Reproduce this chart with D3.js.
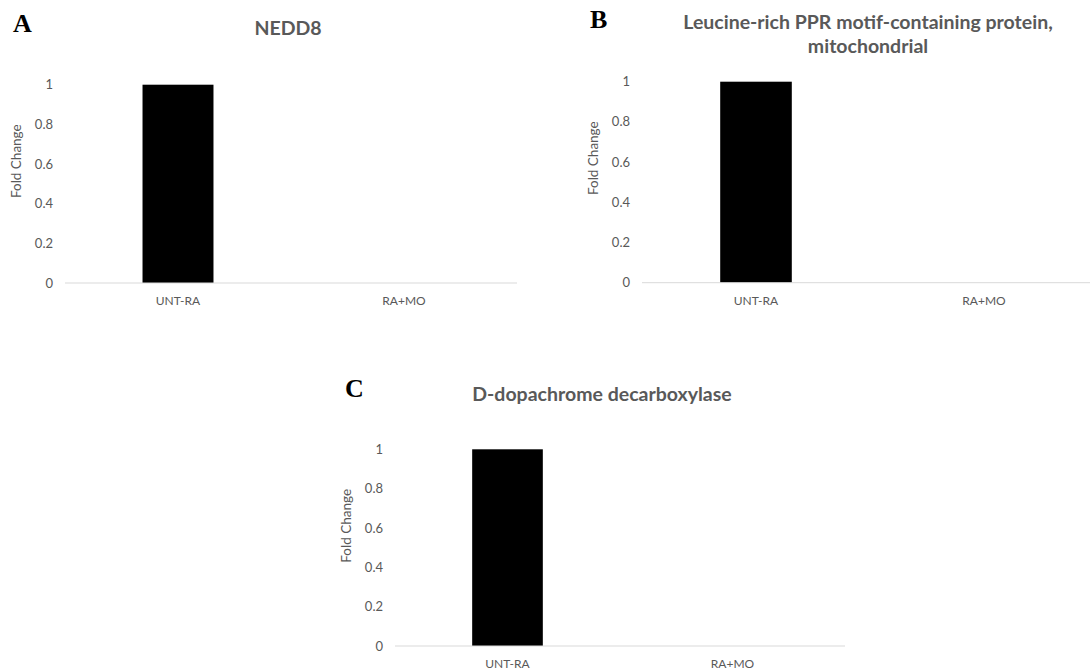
<!DOCTYPE html>
<html>
<head>
<meta charset="utf-8">
<script src="https://cdn.jsdelivr.net/npm/d3@7"></script>
<style>
  body { margin: 0; background: #fff; }
  svg { display: block; }
  .tick-label, .cat-label, .axis-title { font-family: Lato, sans-serif; fill: #595959; }
  .title { font-family: Lato, sans-serif; font-weight: bold; fill: #595959; font-size: 19.5px; }
  .panel-letter { font-family: "Liberation Serif", "Times New Roman", serif; font-weight: bold; font-size: 26px; fill: #000; }
</style>
</head>
<body>
<svg width="1090" height="672"></svg>
<script>
// data
const categories = ['UNT-RA', 'RA+MO'];
const nedd8Values = [1, 0];
const lrpprcValues = [1, 0];
const ddtValues = [1, 0];
const yTicks = [0, 0.2, 0.4, 0.6, 0.8, 1];

const svg = d3.select('svg');

// one panel per protein
const panels = [
  { letter: 'A', title: ['NEDD8'], values: nedd8Values,
    x0: 65, x1: 517, yTop: 84.7, yBot: 283, titleX: 288, titleY: 35, letterX: 13, letterY: 32 },
  { letter: 'B', title: ['Leucine-rich PPR motif-containing protein,', 'mitochondrial'], values: lrpprcValues,
    x0: 642, x1: 1098, yTop: 81.7, yBot: 282.7, titleX: 868, titleY: 28.5, letterX: 590, letterY: 28 },
  { letter: 'C', title: ['D-dopachrome decarboxylase'], values: ddtValues,
    x0: 395, x1: 845, yTop: 449.3, yBot: 646, titleX: 602, titleY: 401, letterX: 345, letterY: 397 }
];

function drawPanel(p) {
  const g = svg.append('g');

  const x = d3.scaleBand()
    .domain(categories)
    .range([p.x0, p.x1])
    .paddingInner(0.686)
    .paddingOuter(0.343);

  const y = d3.scaleLinear()
    .domain([0, 1])
    .range([p.yBot, p.yTop]);

  // bars
  g.selectAll('.bar')
    .data(categories.map((c, i) => ({ cat: c, v: p.values[i] })))
    .enter()
    .append('rect')
    .attr('class', 'bar')
    .attr('x', d => x(d.cat))
    .attr('width', x.bandwidth())
    .attr('y', d => y(d.v))
    .attr('height', d => y(0) - y(d.v))
    .attr('fill', '#000');

  // baseline
  g.append('line')
    .attr('x1', p.x0).attr('x2', p.x1)
    .attr('y1', y(0)).attr('y2', y(0))
    .attr('stroke', '#d9d9d9')
    .attr('stroke-width', 1);

  // y tick labels
  g.selectAll('.tick-label')
    .data(yTicks)
    .enter()
    .append('text')
    .attr('class', 'tick-label')
    .attr('x', p.x0 - 12)
    .attr('y', d => y(d))
    .attr('dy', '0.35em')
    .attr('text-anchor', 'end')
    .style('font-size', '13px')
    .text(d => d3.format('~g')(d));

  // category labels
  g.selectAll('.cat-label')
    .data(categories)
    .enter()
    .append('text')
    .attr('class', 'cat-label')
    .attr('x', d => x(d) + x.bandwidth() / 2)
    .attr('y', y(0) + 22)
    .attr('text-anchor', 'middle')
    .style('font-size', '12px')
    .text(d => d);

  // axis title
  g.append('text')
    .attr('class', 'axis-title')
    .attr('transform', `translate(${p.x0 - 44},${p.yTop + 76.5}) rotate(-90)`)
    .attr('text-anchor', 'middle')
    .style('font-size', '13.5px')
    .text('Fold Change');

  // chart title
  const t = g.append('text')
    .attr('class', 'title')
    .attr('text-anchor', 'middle');
  p.title.forEach((line, i) => {
    t.append('tspan')
      .attr('x', p.titleX)
      .attr('y', p.titleY + i * 24.5)
      .text(line);
  });

  // panel letter
  g.append('text')
    .attr('class', 'panel-letter')
    .attr('x', p.letterX)
    .attr('y', p.letterY)
    .text(p.letter);
}

panels.forEach(drawPanel);
</script>
</body>
</html>
